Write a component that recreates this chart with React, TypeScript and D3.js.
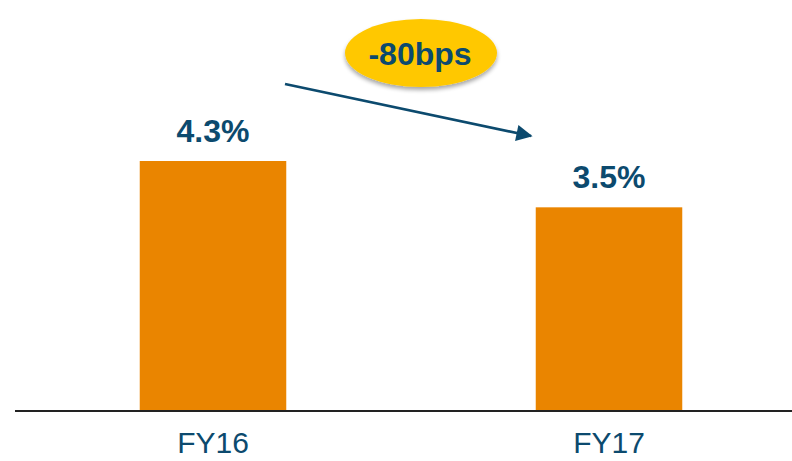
import React from "react";
import * as d3 from "d3";

const categories = ["FY16", "FY17"];
const values = [4.3, 3.5];
const valueLabels = ["4.3%", "3.5%"];
const changeLabel = "-80bps";

const W = 792;
const H = 461;
const BLUE = "#0c4a6e";
const ORANGE = "#EA8500";
const GOLD = "#FFC800";

export default function App() {
  const x = d3.scaleBand<string>().domain(categories).range([15, 807]).paddingInner(0.63).paddingOuter(0.315);
  const y = d3.scaleLinear().domain([0, 4.3]).range([410, 161]);
  const bw = x.bandwidth();

  return (
    <svg width={W} height={H} style={{ position: "absolute", left: 0, top: 0, fontFamily: "Liberation Sans, Arial, sans-serif" }}>
      <defs>
        <marker id="ah" viewBox="0 0 10 10" refX="9" refY="5" markerWidth="7" markerHeight="6" orient="auto" markerUnits="strokeWidth">
          <path d="M0,0 L10,5 L0,10 z" fill={BLUE} />
        </marker>
        <filter id="sh" x="-20%" y="-20%" width="140%" height="150%">
          <feGaussianBlur in="SourceAlpha" stdDeviation="2" />
          <feOffset dx="0" dy="3" result="b" />
          <feComponentTransfer><feFuncA type="linear" slope="0.35" /></feComponentTransfer>
          <feMerge><feMergeNode /><feMergeNode in="SourceGraphic" /></feMerge>
        </filter>
      </defs>
      {categories.map((c, i) => (
        <g key={c}>
          <rect x={x(c)} y={y(values[i])} width={bw} height={y(0) - y(values[i])} fill={ORANGE} />
          <text x={(x(c) as number) + bw / 2} y={y(values[i]) - 19} textAnchor="middle" fontWeight="bold" fontSize={32} fill={BLUE}>
            {valueLabels[i]}
          </text>
          <text x={(x(c) as number) + bw / 2} y={453} textAnchor="middle" fontSize={30} fill={BLUE}>
            {c}
          </text>
        </g>
      ))}
      <line x1={15} x2={W} y1={411} y2={411} stroke="#222" strokeWidth={2} />
      <line x1={285} y1={84} x2={531} y2={136} stroke={BLUE} strokeWidth={2.7} markerEnd="url(#ah)" />
      <ellipse cx={421} cy={53} rx={76} ry={34} fill={GOLD} filter="url(#sh)" />
      <text x={420} y={65} textAnchor="middle" fontWeight="bold" fontSize={32} fill={BLUE}>
        {changeLabel}
      </text>
    </svg>
  );
}
